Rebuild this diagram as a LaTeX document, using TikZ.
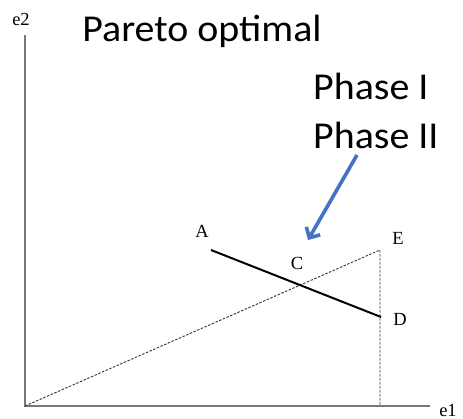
\documentclass[tikz,border=0pt]{standalone}
\usepackage{fontspec}
\setmainfont{Carlito}
\newfontfamily\serifl{Liberation Serif}
\usetikzlibrary{arrows.meta}
\definecolor{arrowblue}{RGB}{68,114,196}
\definecolor{axisgray}{RGB}{120,120,120}
\tikzset{
  axisline/.style={draw=axisgray, line width=1.4pt},
  guide/.style={draw=black!80, line width=0.9pt, dash pattern=on 2.5pt off 1.5pt},
  frontier/.style={draw=black, line width=2pt},
  ptlabel/.style={font=\serifl\fontsize{18.5}{18.5}\selectfont, inner sep=0pt},
  bigtext/.style={font=\fontsize{38}{38}\selectfont, inner sep=0pt, xscale=1.05},
  pointer/.style={draw=arrowblue, line width=3.6pt, -{Straight Barb[length=8pt, width=16pt, line width=3.6pt]}},
}
\begin{document}
\begin{tikzpicture}[x=1pt,y=-1pt]
\useasboundingbox (0,0) rectangle (463,419);
\coordinate (O) at (25,406);
\coordinate (Ytop) at (25,35);
\coordinate (Xend) at (430,406);
\coordinate (Ept) at (380,250);
\coordinate (Ebase) at (380,406);
\coordinate (Apt) at (211,250);
\coordinate (Dpt) at (381,317);
\coordinate (arrS) at (357,155);
\coordinate (arrE) at (308,240);
\path[axisline] (Ytop) -- (O) -- (Xend);
\path[guide] (O) -- (Ept) -- (Ebase);
\path[frontier] (Apt) -- (Dpt);
\node[ptlabel] (e2) at (21,19) {e2};
\node[ptlabel] (e1) at (448,410) {e1};
\node[ptlabel] (A) at (202,231) {A};
\node[ptlabel] (C) at (297,263) {C};
\node[ptlabel] (E) at (398,238) {E};
\node[ptlabel] (D) at (400,319) {D};
\node[bigtext] (pareto) at (202,31) {Pareto optimal};
\node[bigtext, anchor=west] (ph1) at (313,86) {Phase I};
\node[bigtext, anchor=west] (ph2) at (313,135) {Phase II};
\draw[pointer] (arrS) -- (arrE);
\end{tikzpicture}
\end{document}
